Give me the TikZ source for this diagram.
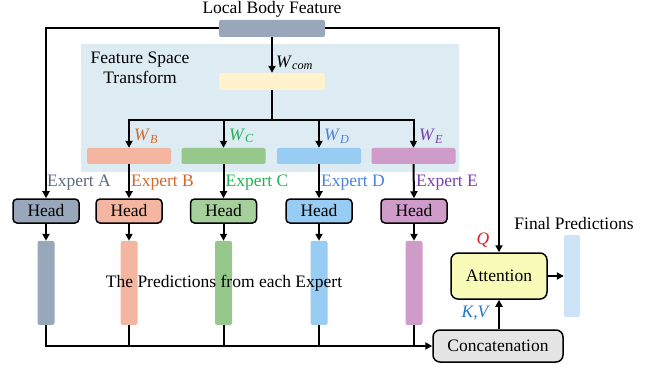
\documentclass[tikz,border=0pt]{standalone}
\usepackage{fontspec}
\setmainfont{Liberation Serif}
\usepackage{xcolor}
\usetikzlibrary{arrows.meta, positioning, calc}

\definecolor{slate}{HTML}{98A8BA}
\definecolor{salmon}{HTML}{F4B6A0}
\definecolor{leaf}{HTML}{95C88A}
\definecolor{sky}{HTML}{99CCF2}
\definecolor{orchid}{HTML}{CF9BC8}
\definecolor{panel}{HTML}{DDEBF3}
\definecolor{cream}{HTML}{FFF2CC}
\definecolor{lemon}{HTML}{F8FBB8}
\definecolor{ice}{HTML}{CCE3F8}
\definecolor{labA}{HTML}{5B6A85}
\definecolor{labB}{HTML}{D2692C}
\definecolor{labC}{HTML}{22B255}
\definecolor{labD}{HTML}{4A82D8}
\definecolor{labE}{HTML}{7B3FB0}
\definecolor{qred}{HTML}{D62020}
\definecolor{kvblue}{HTML}{1F78C8}

\newcommand{\wsub}[1]{\textit{W}\textsubscript{\textit{#1}}}

\tikzset{
  bar/.style={rounded corners=2pt, inner sep=0pt},
  headbox/.style={draw, line width=1.5pt, rounded corners=4pt,
    minimum width=66pt, minimum height=24pt, inner sep=0pt},
  predbar/.style={rounded corners=2pt, minimum width=17pt,
    minimum height=84pt, inner sep=0pt},
  opbox/.style={draw, line width=1.5pt, rounded corners=7pt, inner sep=0pt},
  link/.style={line width=2pt, -{Triangle[length=7pt, width=7pt]}},
  plain/.style={line width=2pt}
}

\begin{document}
\begin{tikzpicture}[
  x=1pt, y=-1pt,
  font=\fontsize{17.5}{20}\selectfont,
  every node/.style={align=center}
]
\useasboundingbox (0,0) rectangle (650,366);

%% ---- Feature space panel ----
\fill[panel] (81,44) rectangle (459,172);
\node (fstxt) at (140,68) {Feature Space\\Transform};

%% ---- Local body feature ----
\node[bar, fill=slate, minimum width=106pt, minimum height=17pt] (lbf) at (272,28.5) {};
\node[above=-1pt of lbf] (lbftxt) {Local Body Feature};

%% ---- Common transform ----
\node[bar, fill=cream, minimum width=106pt, minimum height=17pt] (com) at (272,81.5) {};
\draw[link] (lbf) -- (com);
\node[anchor=west, inner sep=0pt] (wcom) at (276,63) {\wsub{com}};

%% ---- Expert transforms ----
\coordinate (br) at (272,120);
\draw[plain] (com.south) -- (br);
\foreach \n/\x/\c in {B/129/salmon, C/223.5/leaf, D/319/sky, E/413.5/orchid}{
  \node[bar, fill=\c, minimum width=84pt, minimum height=16pt] (t\n) at (\x,156) {};
  \draw[link] (br) -| (t\n.north);
}
\node[anchor=west, text=labB, inner sep=0pt] (wB) at (134,136) {\wsub{B}};
\node[anchor=west, text=labC, inner sep=0pt] (wC) at (229,136) {\wsub{C}};
\node[anchor=west, text=labD, inner sep=0pt] (wD) at (324,136) {\wsub{D}};
\node[anchor=west, text=labE, inner sep=0pt] (wE) at (419,136) {\wsub{E}};

%% ---- Heads ----
\node[headbox, fill=slate]  (hA) at (46,211)    {Head};
\node[headbox, fill=salmon] (hB) at (129,211)   {Head};
\node[headbox, fill=leaf!85!white] (hC) at (223.5,211) {Head};
\node[headbox, fill=sky]    (hD) at (319,211)   {Head};
\node[headbox, fill=orchid] (hE) at (414,211)   {Head};

\draw[link] (lbf.west) -| (hA.north);
\foreach \n in {B,C,D,E}{
  \draw[link] (t\n.south) -- (h\n.north);
}

\node[anchor=west, text=labA, inner sep=1pt] (eA) at (46,183)    {Expert A};
\node[anchor=west, text=labB, inner sep=1pt] (eB) at (130,183)   {Expert B};
\node[anchor=west, text=labC, inner sep=1pt] (eC) at (224.5,183) {Expert C};
\node[anchor=west, text=labD, inner sep=1pt] (eD) at (320,183)   {Expert D};
\node[anchor=west, text=labE, inner sep=1pt] (eE) at (415,183)   {Expert E};

%% ---- Expert predictions ----
\foreach \n/\c in {A/slate, B/salmon, C/leaf, D/sky, E/orchid}{
  \node[predbar, fill=\c, below=17pt of h\n] (p\n) {};
  \draw[link] (h\n.south) -- (p\n.north);
}
\node (ptxt) at (224,283) {The Predictions from each Expert};

%% ---- Concatenation and attention ----
\node[opbox, fill=gray!20, minimum width=130pt, minimum height=32pt] (cat) at (498,346) {Concatenation};
\node[opbox, fill=lemon, minimum width=96pt, minimum height=46pt] (att) at (499,276) {Attention};
\node[predbar, fill=ice, minimum height=82pt, minimum width=16pt] (fin) at (572,276) {};
\node (fintxt) at (574,224) {Final Predictions};

\draw[link] (pA.south) |- (cat.west);
\foreach \n in {B,C,D,E}{
  \draw[plain] (p\n.south) -- (p\n.south |- cat.west);
}
\draw[link] (cat.north -| att.south) -- (att.south);
\draw[link] (lbf.east) -| (att.north);
\draw[link] (att.east) -- (fin.west);

\node[text=qred, font=\fontsize{17.5}{20}\selectfont\itshape] (qlab) at (483,240) {Q};
\node[text=kvblue, font=\fontsize{17.5}{20}\selectfont\itshape] (kvlab) at (475,313) {K,V};

\end{tikzpicture}
\end{document}
